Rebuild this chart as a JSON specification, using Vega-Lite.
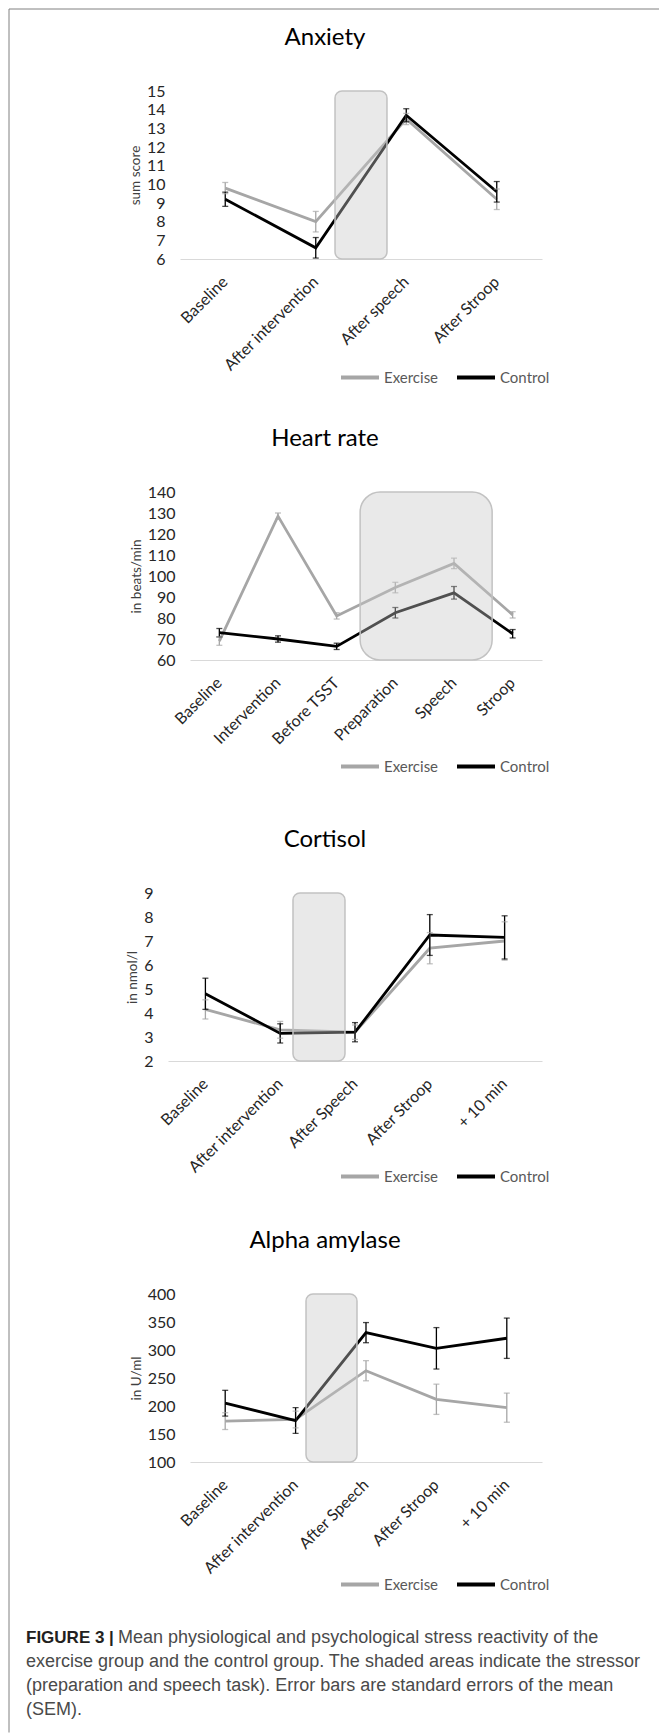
{
  "$schema": "https://vega.github.io/schema/vega-lite/v6.json",
  "background": "white",
  "padding": {"left": 8, "top": 8, "right": 0, "bottom": 0},
  "spacing": -1587,
  "datasets": {
    "caption": [
      {"line": 1, "seg": "head", "text": "FIGURE 3 |"},
      {"line": 1, "seg": "body", "text": "Mean physiological and psychological stress reactivity of the"},
      {"line": 2, "seg": "body", "text": "exercise group and the control group. The shaded areas indicate the stressor"},
      {"line": 3, "seg": "body", "text": "(preparation and speech task). Error bars are standard errors of the mean"},
      {"line": 4, "seg": "body", "text": "(SEM)."}
    ],
    "anxiety": [
      {"t": "Baseline", "g": "Exercise", "m": 9.8, "lo": 9.5, "hi": 10.1},
      {"t": "After intervention", "g": "Exercise", "m": 8.0, "lo": 7.45, "hi": 8.55},
      {"t": "After speech", "g": "Exercise", "m": 13.5, "lo": 13.2, "hi": 13.8},
      {"t": "After Stroop", "g": "Exercise", "m": 9.2, "lo": 8.65, "hi": 9.75},
      {"t": "Baseline", "g": "Control", "m": 9.2, "lo": 8.82, "hi": 9.58},
      {"t": "After intervention", "g": "Control", "m": 6.6, "lo": 6.05, "hi": 7.15},
      {"t": "After speech", "g": "Control", "m": 13.7, "lo": 13.35, "hi": 14.05},
      {"t": "After Stroop", "g": "Control", "m": 9.6, "lo": 9.05, "hi": 10.15}
    ],
    "anxietyBox": [{"from": "After intervention", "to": "After speech", "lo": 6, "hi": 15}],
    "heart": [
      {"t": "Baseline", "g": "Exercise", "m": 69, "lo": 67, "hi": 71},
      {"t": "Intervention", "g": "Exercise", "m": 128.5, "lo": 127, "hi": 130},
      {"t": "Before TSST", "g": "Exercise", "m": 81, "lo": 79.5, "hi": 82.5},
      {"t": "Preparation", "g": "Exercise", "m": 94.5, "lo": 92, "hi": 97},
      {"t": "Speech", "g": "Exercise", "m": 106, "lo": 103.5, "hi": 108.5},
      {"t": "Stroop", "g": "Exercise", "m": 81.5, "lo": 80, "hi": 83},
      {"t": "Baseline", "g": "Control", "m": 73, "lo": 71, "hi": 75},
      {"t": "Intervention", "g": "Control", "m": 70, "lo": 68.5, "hi": 71.5},
      {"t": "Before TSST", "g": "Control", "m": 66.5, "lo": 65, "hi": 68},
      {"t": "Preparation", "g": "Control", "m": 82.5, "lo": 80, "hi": 85},
      {"t": "Speech", "g": "Control", "m": 92, "lo": 89, "hi": 95},
      {"t": "Stroop", "g": "Control", "m": 72.5, "lo": 70.5, "hi": 74.5}
    ],
    "heartBox": [{"from": "Before TSST", "to": "Stroop", "lo": 60, "hi": 140}],
    "cortisol": [
      {"t": "Baseline", "g": "Exercise", "m": 4.15, "lo": 3.75, "hi": 4.55},
      {"t": "After intervention", "g": "Exercise", "m": 3.3, "lo": 2.95, "hi": 3.65},
      {"t": "After Speech", "g": "Exercise", "m": 3.2, "lo": 2.9, "hi": 3.5},
      {"t": "After Stroop", "g": "Exercise", "m": 6.7, "lo": 6.05, "hi": 7.35},
      {"t": "+ 10 min", "g": "Exercise", "m": 7.0, "lo": 6.2, "hi": 7.8},
      {"t": "Baseline", "g": "Control", "m": 4.8, "lo": 4.15, "hi": 5.45},
      {"t": "After intervention", "g": "Control", "m": 3.15, "lo": 2.75, "hi": 3.55},
      {"t": "After Speech", "g": "Control", "m": 3.2, "lo": 2.8, "hi": 3.6},
      {"t": "After Stroop", "g": "Control", "m": 7.25, "lo": 6.4, "hi": 8.1},
      {"t": "+ 10 min", "g": "Control", "m": 7.15, "lo": 6.25, "hi": 8.05}
    ],
    "cortisolBox": [{"from": "After intervention", "to": "After Speech", "lo": 2, "hi": 9}],
    "alpha": [
      {"t": "Baseline", "g": "Exercise", "m": 173, "lo": 158, "hi": 188},
      {"t": "After intervention", "g": "Exercise", "m": 176, "lo": 161, "hi": 191},
      {"t": "After Speech", "g": "Exercise", "m": 263, "lo": 245, "hi": 281},
      {"t": "After Stroop", "g": "Exercise", "m": 212, "lo": 185, "hi": 239},
      {"t": "+ 10 min", "g": "Exercise", "m": 197, "lo": 171, "hi": 223},
      {"t": "Baseline", "g": "Control", "m": 205, "lo": 182, "hi": 228},
      {"t": "After intervention", "g": "Control", "m": 174, "lo": 151, "hi": 197},
      {"t": "After Speech", "g": "Control", "m": 331, "lo": 313, "hi": 349},
      {"t": "After Stroop", "g": "Control", "m": 303, "lo": 266, "hi": 340},
      {"t": "+ 10 min", "g": "Control", "m": 321, "lo": 285, "hi": 357}
    ],
    "alphaBox": [{"from": "After intervention", "to": "After Speech", "lo": 100, "hi": 400}]
  },
  "vconcat": [
    {
      "spacing": 35,
      "resolve": {"scale": {"color": "independent"}, "legend": {"color": "independent"}},
      "vconcat": [
        {
          "width": 374,
          "height": 168,
          "title": "Anxiety",
          "data": {"name": "anxiety"},
          "encoding": {
            "x": {"field": "t", "type": "nominal", "title": null,
                  "scale": {"type": "band", "domain": ["Baseline", "After intervention", "After speech", "After Stroop"], "range": [12, 374], "paddingInner": 0, "paddingOuter": 0}},
            "color": {"field": "g", "type": "nominal",
                      "scale": {"domain": ["Exercise", "Control"], "range": ["#a6a6a6", "#000000"]},
                      "legend": {"title": null, "legendX": 164.5, "legendY": 259, "padding": 6.5}}
          },
          "layer": [
            {"mark": {"type": "line", "strokeWidth": 2.8},
             "encoding": {"y": {"field": "m", "type": "quantitative", "scale": {"domain": [6, 15], "nice": false, "zero": false},
                                "axis": {"title": "sum score", "values": [6, 7, 8, 9, 10, 11, 12, 13, 14, 15], "offset": -12}}}},
            {"mark": {"type": "rule", "strokeWidth": 1.3},
             "encoding": {"y": {"field": "lo", "type": "quantitative", "axis": {"title": "sum score", "values": [6, 7, 8, 9, 10, 11, 12, 13, 14, 15], "offset": -12}}, "y2": {"field": "hi"}}},
            {"mark": {"type": "tick", "size": 6, "thickness": 1.3},
             "encoding": {"y": {"field": "lo", "type": "quantitative", "axis": {"title": "sum score", "values": [6, 7, 8, 9, 10, 11, 12, 13, 14, 15], "offset": -12}}}},
            {"mark": {"type": "tick", "size": 6, "thickness": 1.3},
             "encoding": {"y": {"field": "hi", "type": "quantitative", "axis": {"title": "sum score", "values": [6, 7, 8, 9, 10, 11, 12, 13, 14, 15], "offset": -12}}}},
            {"data": {"name": "anxietyBox"},
             "mark": {"type": "rect", "fillOpacity": 0.4, "stroke": "#c2c2c2", "strokeWidth": 1.5, "cornerRadius": 7},
             "encoding": {"x": {"field": "from", "type": "nominal", "bandPosition": 0.713},
                          "x2": {"field": "to", "bandPosition": 0.287},
                          "y": {"field": "hi", "type": "quantitative", "axis": {"title": "sum score", "values": [6, 7, 8, 9, 10, 11, 12, 13, 14, 15], "offset": -12}}, "y2": {"field": "lo"},
                          "color": {"value": "#c8c8c8"}}}
          ]
        },
        {
          "width": 374,
          "height": 168,
          "title": "Heart rate",
          "data": {"name": "heart"},
          "encoding": {
            "x": {"field": "t", "type": "nominal", "title": null,
                  "scale": {"type": "band", "domain": ["Baseline", "Intervention", "Before TSST", "Preparation", "Speech", "Stroop"], "range": [22, 374], "paddingInner": 0, "paddingOuter": 0}},
            "color": {"field": "g", "type": "nominal",
                      "scale": {"domain": ["Exercise", "Control"], "range": ["#a6a6a6", "#000000"]},
                      "legend": {"title": null, "legendX": 152.5, "legendY": 235, "padding": 18.5}}
          },
          "layer": [
            {"mark": {"type": "line", "strokeWidth": 2.8},
             "encoding": {"y": {"field": "m", "type": "quantitative", "scale": {"domain": [60, 140], "nice": false, "zero": false},
                                "axis": {"title": "in  beats/min", "values": [60, 70, 80, 90, 100, 110, 120, 130, 140], "offset": -22}}}},
            {"mark": {"type": "rule", "strokeWidth": 1.3},
             "encoding": {"y": {"field": "lo", "type": "quantitative", "axis": {"title": "in  beats/min", "values": [60, 70, 80, 90, 100, 110, 120, 130, 140], "offset": -22}}, "y2": {"field": "hi"}}},
            {"mark": {"type": "tick", "size": 6, "thickness": 1.3},
             "encoding": {"y": {"field": "lo", "type": "quantitative", "axis": {"title": "in  beats/min", "values": [60, 70, 80, 90, 100, 110, 120, 130, 140], "offset": -22}}}},
            {"mark": {"type": "tick", "size": 6, "thickness": 1.3},
             "encoding": {"y": {"field": "hi", "type": "quantitative", "axis": {"title": "in  beats/min", "values": [60, 70, 80, 90, 100, 110, 120, 130, 140], "offset": -22}}}},
            {"data": {"name": "heartBox"},
             "mark": {"type": "rect", "fillOpacity": 0.4, "stroke": "#c2c2c2", "strokeWidth": 1.5, "cornerRadius": 20},
             "encoding": {"x": {"field": "from", "type": "nominal", "bandPosition": 0.9},
                          "x2": {"field": "to", "bandPosition": 0.15},
                          "y": {"field": "hi", "type": "quantitative", "axis": {"title": "in  beats/min", "values": [60, 70, 80, 90, 100, 110, 120, 130, 140], "offset": -22}}, "y2": {"field": "lo"},
                          "color": {"value": "#c8c8c8"}}}
          ]
        },
        {
          "width": 374,
          "height": 168,
          "title": "Cortisol",
          "data": {"name": "cortisol"},
          "encoding": {
            "x": {"field": "t", "type": "nominal", "title": null,
                  "scale": {"type": "band", "domain": ["Baseline", "After intervention", "After Speech", "After Stroop", "+ 10 min"], "range": [0, 374], "paddingInner": 0, "paddingOuter": 0}},
            "color": {"field": "g", "type": "nominal",
                      "scale": {"domain": ["Exercise", "Control"], "range": ["#a6a6a6", "#000000"]},
                      "legend": {"title": null, "legendX": 161.5, "legendY": 253, "padding": 9.5}}
          },
          "layer": [
            {"mark": {"type": "line", "strokeWidth": 2.8},
             "encoding": {"y": {"field": "m", "type": "quantitative", "scale": {"domain": [2, 9], "nice": false, "zero": false},
                                "axis": {"title": "in nmol/l", "values": [2, 3, 4, 5, 6, 7, 8, 9]}}}},
            {"mark": {"type": "rule", "strokeWidth": 1.3},
             "encoding": {"y": {"field": "lo", "type": "quantitative", "axis": {"title": "in nmol/l", "values": [2, 3, 4, 5, 6, 7, 8, 9]}}, "y2": {"field": "hi"}}},
            {"mark": {"type": "tick", "size": 6, "thickness": 1.3},
             "encoding": {"y": {"field": "lo", "type": "quantitative", "axis": {"title": "in nmol/l", "values": [2, 3, 4, 5, 6, 7, 8, 9]}}}},
            {"mark": {"type": "tick", "size": 6, "thickness": 1.3},
             "encoding": {"y": {"field": "hi", "type": "quantitative", "axis": {"title": "in nmol/l", "values": [2, 3, 4, 5, 6, 7, 8, 9]}}}},
            {"data": {"name": "cortisolBox"},
             "mark": {"type": "rect", "fillOpacity": 0.4, "stroke": "#c2c2c2", "strokeWidth": 1.5, "cornerRadius": 7},
             "encoding": {"x": {"field": "from", "type": "nominal", "bandPosition": 0.671},
                          "x2": {"field": "to", "bandPosition": 0.366},
                          "y": {"field": "hi", "type": "quantitative", "axis": {"title": "in nmol/l", "values": [2, 3, 4, 5, 6, 7, 8, 9]}}, "y2": {"field": "lo"},
                          "color": {"value": "#c8c8c8"}}}
          ]
        },
        {
          "width": 374,
          "height": 168,
          "title": "Alpha amylase",
          "data": {"name": "alpha"},
          "encoding": {
            "x": {"field": "t", "type": "nominal", "title": null,
                  "scale": {"type": "band", "domain": ["Baseline", "After intervention", "After Speech", "After Stroop", "+ 10 min"], "range": [22, 374], "paddingInner": 0, "paddingOuter": 0}},
            "color": {"field": "g", "type": "nominal",
                      "scale": {"domain": ["Exercise", "Control"], "range": ["#a6a6a6", "#000000"]},
                      "legend": {"title": null, "legendX": 168.5, "legendY": 267, "padding": 2.5}}
          },
          "layer": [
            {"mark": {"type": "line", "strokeWidth": 2.8},
             "encoding": {"y": {"field": "m", "type": "quantitative", "scale": {"domain": [100, 400], "nice": false, "zero": false},
                                "axis": {"title": "in U/ml", "values": [100, 150, 200, 250, 300, 350, 400], "offset": -22}}}},
            {"mark": {"type": "rule", "strokeWidth": 1.3},
             "encoding": {"y": {"field": "lo", "type": "quantitative", "axis": {"title": "in U/ml", "values": [100, 150, 200, 250, 300, 350, 400], "offset": -22}}, "y2": {"field": "hi"}}},
            {"mark": {"type": "tick", "size": 6, "thickness": 1.3},
             "encoding": {"y": {"field": "lo", "type": "quantitative", "axis": {"title": "in U/ml", "values": [100, 150, 200, 250, 300, 350, 400], "offset": -22}}}},
            {"mark": {"type": "tick", "size": 6, "thickness": 1.3},
             "encoding": {"y": {"field": "hi", "type": "quantitative", "axis": {"title": "in U/ml", "values": [100, 150, 200, 250, 300, 350, 400], "offset": -22}}}},
            {"data": {"name": "alphaBox"},
             "mark": {"type": "rect", "fillOpacity": 0.4, "stroke": "#c2c2c2", "strokeWidth": 1.5, "cornerRadius": 7},
             "encoding": {"x": {"field": "from", "type": "nominal", "bandPosition": 0.648},
                          "x2": {"field": "to", "bandPosition": 0.372},
                          "y": {"field": "hi", "type": "quantitative", "axis": {"title": "in U/ml", "values": [100, 150, 200, 250, 300, 350, 400], "offset": -22}}, "y2": {"field": "lo"},
                          "color": {"value": "#c8c8c8"}}}
          ]
        }
      ]
    },
    {
      "width": 1,
      "height": 1,
      "resolve": {"scale": {"x": "independent", "y": "independent"}, "axis": {"x": "independent", "y": "independent"}},
      "layer": [
        {
          "data": {"values": []},
          "mark": {"type": "rule"},
          "encoding": {
            "x": {"field": "fx", "type": "quantitative", "scale": {"domain": [0, 1], "range": [-159.5, 490.5]},
                  "axis": {"orient": "top", "offset": 1723.5, "domain": true, "domainColor": "#808080", "domainWidth": 1, "labels": false, "ticks": false, "grid": false, "title": null}},
            "y": {"field": "fy", "type": "quantitative", "scale": {"domain": [0, 1], "range": [0, -1723.5]},
                  "axis": {"orient": "left", "offset": 159.5, "domain": true, "domainColor": "#808080", "domainWidth": 1, "labels": false, "ticks": false, "grid": false, "title": null}}
          }
        },
        {
          "data": {"name": "caption"},
          "transform": [{"filter": "datum.seg === 'head'"}],
          "mark": {"type": "text", "align": "left", "baseline": "middle", "font": "Liberation Sans", "fontSize": 17, "fontWeight": "bold", "color": "#231f20"},
          "encoding": {
            "y": {"field": "line", "type": "ordinal", "scale": {"type": "point", "domain": [1, 2, 3, 4], "range": [-94, -22], "padding": 0}, "axis": null},
            "x": {"value": -142},
            "text": {"field": "text"}
          }
        },
        {
          "data": {"name": "caption"},
          "transform": [{"filter": "datum.seg === 'body' && datum.line === 1"}],
          "mark": {"type": "text", "align": "left", "baseline": "middle", "font": "Liberation Sans", "fontSize": 18, "color": "#4a4a4a", "dx": 92},
          "encoding": {
            "y": {"field": "line", "type": "ordinal", "scale": {"type": "point", "domain": [1, 2, 3, 4], "range": [-94, -22], "padding": 0}, "axis": null},
            "x": {"value": -142},
            "text": {"field": "text"}
          }
        },
        {
          "data": {"name": "caption"},
          "transform": [{"filter": "datum.line > 1"}],
          "mark": {"type": "text", "align": "left", "baseline": "middle", "font": "Liberation Sans", "fontSize": 18, "color": "#4a4a4a"},
          "encoding": {
            "y": {"field": "line", "type": "ordinal", "scale": {"type": "point", "domain": [1, 2, 3, 4], "range": [-94, -22], "padding": 0}, "axis": null},
            "x": {"value": -142},
            "text": {"field": "text"}
          }
        }
      ]
    }
  ],
  "config": {
    "font": "Lato",
    "view": {"stroke": null},
    "title": {"font": "Lato", "fontSize": 24, "fontWeight": "normal", "color": "#000000", "offset": 33, "anchor": "middle", "dx": -30},
    "axis": {"grid": false, "ticks": false, "labelFont": "Lato", "labelFontSize": 16, "labelColor": "#262626",
             "titleFont": "Lato", "titleFontSize": 13.5, "titleFontWeight": "normal", "titleColor": "#404040"},
    "axisX": {"domainColor": "#d9d9d9", "domainWidth": 1, "labelAngle": -45, "labelAlign": "right", "labelBaseline": "middle", "labelPadding": 20},
    "axisY": {"domain": false, "labelPadding": 15, "titlePadding": 4},
    "legend": {"orient": "none", "direction": "horizontal", "symbolType": "stroke", "symbolSize": 1444, "symbolStrokeWidth": 4, "symbolOpacity": 1,
               "labelFont": "Lato", "labelFontSize": 15, "labelColor": "#595959", "labelOffset": 3, "columnPadding": 10}
  }
}
